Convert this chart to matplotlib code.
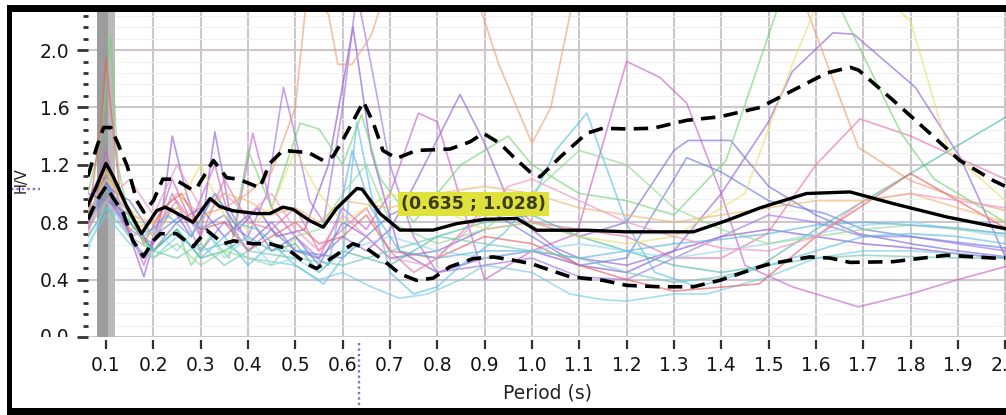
import matplotlib
matplotlib.use("Agg")
import matplotlib.pyplot as plt
from matplotlib.ticker import FixedLocator, MultipleLocator
from matplotlib.patches import Rectangle
from matplotlib.transforms import Bbox, TransformedBbox

# ---------------- data ----------------
x_ticks = [0.1, 0.2, 0.3, 0.4, 0.5, 0.6, 0.7, 0.8, 0.9, 1.0,
           1.1, 1.2, 1.3, 1.4, 1.5, 1.6, 1.7, 1.8, 1.9, 2.0]
x_tick_labels = ["0.1", "0.2", "0.3", "0.4", "0.5", "0.6", "0.7", "0.8", "0.9", "1.0",
                 "1.1", "1.2", "1.3", "1.4", "1.5", "1.6", "1.7", "1.8", "1.9", "2.0"]
y_ticks = [0.0, 0.4, 0.8, 1.2, 1.6, 2.0]
y_tick_labels = ["0.0", "0.4", "0.8", "1.2", "1.6", "2.0"]

mean_period = [0.062, 0.08, 0.10, 0.115, 0.144, 0.175, 0.207, 0.225, 0.24, 0.284, 0.32, 0.34,
               0.368, 0.418, 0.446, 0.474, 0.495, 0.531, 0.559, 0.587, 0.63, 0.641, 0.679,
               0.721, 0.791, 0.841, 0.90, 0.968, 1.01, 1.116, 1.2, 1.341, 1.41, 1.482, 1.58,
               1.672, 1.763, 1.876, 2.0]
mean_hv = [0.92, 1.05, 1.21, 1.12, 0.91, 0.72, 0.88, 0.905, 0.88, 0.80, 0.965, 0.91,
           0.88, 0.86, 0.86, 0.905, 0.89, 0.81, 0.765, 0.895, 1.035, 1.03, 0.86,
           0.745, 0.745, 0.79, 0.82, 0.826, 0.744, 0.744, 0.733, 0.733, 0.81, 0.90, 1.0,
           1.011, 0.93, 0.837, 0.755]

upper_period = [0.062, 0.08, 0.095, 0.11, 0.125, 0.145, 0.165, 0.18, 0.20, 0.22, 0.245, 0.28,
                0.29, 0.327, 0.355, 0.38, 0.425, 0.446, 0.474, 0.51, 0.525, 0.559, 0.58, 0.60,
                0.644, 0.665, 0.685, 0.714, 0.756, 0.827, 0.869, 0.897, 0.932, 0.961, 0.996,
                1.017, 1.06, 1.116, 1.15, 1.20, 1.256, 1.327, 1.397, 1.482, 1.552, 1.623,
                1.672, 1.69, 1.763, 1.834, 1.904, 1.975, 2.0]
upper_hv = [1.12, 1.32, 1.46, 1.46, 1.35, 1.19, 0.95, 0.87, 0.95, 1.10, 1.10, 1.03,
            1.03, 1.23, 1.11, 1.10, 1.04, 1.21, 1.30, 1.29, 1.29, 1.23, 1.26, 1.37,
            1.64, 1.49, 1.30, 1.245, 1.30, 1.31, 1.36, 1.42, 1.35, 1.255, 1.15,
            1.116, 1.255, 1.42, 1.455, 1.45, 1.455, 1.51, 1.535, 1.60, 1.72, 1.84,
            1.88, 1.86, 1.65, 1.44, 1.23, 1.09, 1.05]

lower_period = [0.062, 0.08, 0.10, 0.115, 0.137, 0.157, 0.179, 0.20, 0.215, 0.249, 0.284, 0.313,
                0.348, 0.37, 0.41, 0.446, 0.482, 0.524, 0.545, 0.58, 0.622, 0.651, 0.686,
                0.721, 0.756, 0.791, 0.827, 0.876, 0.918, 0.961, 1.0, 1.017, 1.08, 1.15,
                1.20, 1.27, 1.341, 1.397, 1.482, 1.503, 1.587, 1.63, 1.672, 1.763, 1.876,
                1.975, 2.0]
lower_hv = [0.82, 0.95, 1.05, 0.97, 0.86, 0.67, 0.56, 0.67, 0.72, 0.72, 0.63, 0.744,
            0.65, 0.67, 0.65, 0.65, 0.616, 0.51, 0.477, 0.558, 0.65, 0.616, 0.535,
            0.44, 0.395, 0.41, 0.49, 0.546, 0.558, 0.535, 0.51, 0.49, 0.42, 0.395,
            0.36, 0.35, 0.35, 0.395, 0.49, 0.51, 0.558, 0.55, 0.52, 0.525, 0.57,
            0.55, 0.55]

# individual H/V curves (thin coloured lines)
t01_p = [0.062, 0.09, 0.12, 0.18, 0.24, 0.28, 0.33, 0.38, 0.42, 0.46, 0.52, 0.57, 0.622, 0.66,
         0.72, 0.8, 0.9, 1.0, 1.1, 1.2, 1.3, 1.4, 1.5, 1.6, 1.7, 1.8, 1.9, 2.0]
t01_v = [0.95, 1.15, 0.9, 0.55, 0.9, 0.7, 1.0, 0.75, 0.9, 0.7, 0.75, 1.2, 2.16, 1.3,
         0.6, 0.45, 0.55, 0.6, 0.5, 0.45, 0.6, 0.7, 0.75, 0.7, 0.65, 0.62, 0.58, 0.55]

t02_p = [0.062, 0.1, 0.15, 0.2, 0.24, 0.3, 0.35, 0.4, 0.44, 0.475, 0.5, 0.53, 0.56, 0.6, 0.63,
         0.66, 0.7, 0.75, 0.8, 0.9, 1.0, 1.1, 1.2, 1.3, 1.4, 1.5, 1.6, 1.7, 1.8, 1.9, 2.0]
t02_v = [0.8, 1.0, 0.75, 0.65, 1.0, 0.6, 0.8, 0.7, 1.0, 1.74, 1.4, 0.95, 0.8, 1.6, 2.4,
         1.9, 1.2, 0.7, 0.45, 0.5, 0.55, 0.42, 0.4, 0.55, 0.7, 0.85, 0.8, 0.7, 0.7, 0.65, 0.6]

t03_p = [0.062, 0.1, 0.14, 0.18, 0.22, 0.24, 0.27, 0.3, 0.33, 0.36, 0.4, 0.45, 0.5, 0.55, 0.6,
         0.65, 0.7, 0.75, 0.848, 0.9, 0.95, 1.0, 1.05, 1.1, 1.2, 1.3, 1.4, 1.5, 1.55, 1.636,
         1.68, 1.81, 1.905, 2.0]
t03_v = [0.85, 1.1, 0.8, 0.42, 0.9, 1.4, 1.0, 0.7, 1.43, 0.9, 0.65, 0.8, 0.6, 0.55, 0.7,
         0.6, 0.75, 1.05, 1.69, 1.35, 0.95, 0.75, 0.62, 0.55, 0.5, 0.6, 1.0, 1.5, 1.85, 2.12,
         2.11, 1.74, 1.25, 0.56]

t04_p = [0.062, 0.1, 0.13, 0.18, 0.24, 0.28, 0.33, 0.37, 0.41, 0.45, 0.5, 0.55, 0.6, 0.65, 0.7,
         0.76, 0.8, 0.9, 0.95, 1.0, 1.095, 1.2, 1.27, 1.327, 1.4, 1.45, 1.55, 1.69, 1.8, 1.9, 2.0]
t04_v = [0.75, 1.3, 0.9, 0.5, 1.1, 0.8, 1.2, 0.7, 1.42, 0.9, 0.7, 0.55, 0.9, 0.75, 1.0,
         1.56, 1.5, 0.4, 0.5, 0.6, 0.72, 1.92, 1.81, 1.63, 1.0, 0.5, 0.35, 0.21, 0.3, 0.4, 0.49]

t05_p = [0.062, 0.1, 0.15, 0.2, 0.25, 0.3, 0.35, 0.4, 0.45, 0.5, 0.525, 0.57, 0.59, 0.62, 0.66,
         0.7, 0.8, 0.88, 0.93, 1.0, 1.04, 1.09, 1.3, 1.5, 1.59, 1.69, 1.8, 1.9, 2.0]
t05_v = [0.7, 1.2, 0.75, 0.8, 1.0, 0.85, 0.9, 1.0, 1.15, 1.6, 2.4, 2.25, 1.9, 1.9, 2.1,
         2.5, 3.0, 2.4, 1.9, 1.35, 1.6, 2.4, 3.0, 3.0, 2.2, 1.32, 1.09, 0.97, 0.88]

t06_p = [0.062, 0.1, 0.15, 0.2, 0.25, 0.3, 0.35, 0.4, 0.45, 0.5, 0.55, 0.6, 0.65, 0.7, 0.75,
         0.8, 0.9, 0.95, 1.0, 1.1, 1.2, 1.3, 1.4, 1.497, 1.6, 1.693, 1.8, 1.9, 2.0]
t06_v = [0.9, 1.0, 0.7, 0.75, 0.95, 0.7, 1.1, 0.8, 0.75, 0.9, 0.6, 0.75, 0.9, 0.6, 0.45,
         0.55, 0.9, 0.95, 0.8, 0.75, 0.7, 0.55, 0.55, 0.72, 1.2, 1.52, 1.4, 1.25, 1.1]

t07_p = [0.062, 0.1, 0.15, 0.2, 0.25, 0.3, 0.35, 0.4, 0.45, 0.5, 0.55, 0.6, 0.65, 0.7, 0.8,
         0.9, 1.0, 1.1, 1.2, 1.3, 1.33, 1.42, 1.5, 1.6, 1.69, 1.8, 1.9, 2.0]
t07_v = [1.0, 0.95, 0.85, 0.6, 0.8, 0.9, 0.7, 0.85, 0.6, 0.7, 0.5, 0.8, 0.7, 0.55, 0.6,
         0.75, 0.8, 0.7, 0.8, 1.3, 1.37, 1.37, 1.05, 0.85, 0.72, 0.65, 0.6, 0.56]

t08_p = [0.062, 0.1, 0.15, 0.2, 0.26, 0.3, 0.35, 0.4, 0.45, 0.5, 0.6, 0.7, 0.8, 0.9, 1.0,
         1.1, 1.2, 1.327, 1.4, 1.5, 1.62, 1.7, 1.8, 1.9, 2.0]
t08_v = [0.8, 1.05, 0.95, 0.7, 0.85, 0.75, 0.85, 0.6, 0.75, 0.6, 0.55, 0.85, 1.0, 0.9, 0.7,
         0.5, 0.55, 1.25, 1.15, 0.95, 0.86, 0.75, 0.7, 0.66, 0.62]

t09_p = [0.062, 0.1, 0.15, 0.2, 0.25, 0.3, 0.35, 0.4, 0.45, 0.5, 0.56, 0.6, 0.63, 0.66, 0.7,
         0.75, 0.8, 0.85, 0.94, 1.0, 1.05, 1.116, 1.2, 1.26, 1.35, 1.45, 1.6, 1.7, 1.8, 1.9, 2.0]
t09_v = [0.7, 0.9, 0.8, 0.6, 0.75, 0.55, 0.7, 0.5, 0.65, 0.5, 0.37, 0.55, 1.5, 1.0, 0.45,
         0.3, 0.35, 0.5, 0.72, 0.95, 1.3, 1.56, 0.79, 0.45, 0.35, 0.45, 0.6, 0.7, 0.72, 0.7, 0.65]

t10_p = [0.062, 0.1, 0.15, 0.2, 0.25, 0.3, 0.35, 0.4, 0.5, 0.55, 0.6, 0.66, 0.72, 0.78, 0.85,
         0.9, 1.0, 1.08, 1.15, 1.2, 1.3, 1.37, 1.5, 1.6, 1.7, 1.8, 1.9, 2.0]
t10_v = [0.65, 0.85, 0.65, 0.55, 0.7, 0.6, 0.65, 0.55, 0.5, 0.4, 0.45, 0.35, 0.27, 0.3, 0.4,
         0.5, 0.45, 0.3, 0.26, 0.25, 0.3, 0.3, 0.42, 0.55, 0.6, 0.6, 0.58, 0.55]

t11_p = [0.062, 0.09, 0.11, 0.125, 0.15, 0.2, 0.25, 0.28, 0.32, 0.36, 0.4, 0.45, 0.51, 0.55,
         0.6, 0.64, 0.68, 0.75, 0.85, 0.95, 1.0, 1.1, 1.2, 1.3, 1.41, 1.52, 1.6, 1.65, 1.78,
         1.85, 2.0]
t11_v = [1.0, 1.4, 2.1, 1.2, 0.8, 0.6, 0.75, 0.5, 0.7, 0.55, 1.3, 0.9, 1.49, 1.45,
         1.2, 1.55, 1.1, 0.8, 1.2, 1.4, 1.2, 1.0, 0.95, 0.85, 1.23, 2.3, 2.6, 2.3, 1.42,
         1.1, 0.8]

t12_p = [0.062, 0.1, 0.15, 0.2, 0.25, 0.3, 0.35, 0.4, 0.45, 0.5, 0.55, 0.6, 0.7, 0.8, 0.9,
         1.0, 1.1, 1.2, 1.3, 1.4, 1.48, 1.6, 1.8, 2.0]
t12_v = [0.75, 1.0, 0.8, 0.6, 0.75, 0.55, 0.6, 0.7, 0.6, 0.65, 0.45, 0.6, 0.5, 0.7, 0.8,
         0.85, 0.7, 0.6, 0.5, 0.45, 0.49, 0.75, 1.14, 1.53]

t13_p = [0.062, 0.09, 0.10, 0.11, 0.13, 0.18, 0.22, 0.26, 0.3, 0.35, 0.4, 0.45, 0.5, 0.55,
         0.6, 0.65, 0.7, 0.8, 0.9, 1.0, 1.1, 1.2, 1.3, 1.48, 1.6, 1.8, 1.9, 2.0]
t13_v = [0.8, 1.5, 1.95, 1.6, 1.0, 0.65, 0.9, 1.0, 0.75, 0.8, 0.6, 0.7, 0.8, 0.65,
         0.7, 0.85, 0.6, 0.55, 0.7, 0.65, 0.5, 0.4, 0.32, 0.37, 0.7, 1.14, 0.95, 0.76]

t14_p = [0.062, 0.1, 0.15, 0.2, 0.25, 0.3, 0.35, 0.4, 0.45, 0.5, 0.55, 0.6, 0.7, 0.8, 0.9,
         1.0, 1.1, 1.2, 1.3, 1.45, 1.55, 1.6, 1.7, 1.8, 1.88, 2.0]
t14_v = [0.85, 1.1, 0.9, 0.7, 0.9, 1.2, 0.85, 0.75, 0.9, 1.3, 1.0, 0.8, 1.0, 0.9, 0.75,
         0.8, 0.7, 0.65, 0.7, 1.0, 1.9, 2.3, 2.5, 2.2, 1.3, 0.95]

t15_p = [0.062, 0.1, 0.15, 0.2, 0.25, 0.3, 0.35, 0.4, 0.45, 0.5, 0.55, 0.6, 0.7, 0.8, 0.9,
         1.0, 1.1, 1.2, 1.3, 1.4, 1.5, 1.6, 1.7, 1.8, 1.9, 2.0]
t15_v = [0.6, 0.95, 0.7, 0.75, 0.6, 0.8, 0.55, 0.7, 0.5, 0.55, 0.45, 0.6, 0.7, 0.6, 0.55,
         0.6, 0.65, 0.6, 0.55, 0.6, 0.65, 0.72, 0.78, 0.8, 0.75, 0.7]

t16_p = [0.062, 0.1, 0.15, 0.2, 0.25, 0.3, 0.35, 0.4, 0.45, 0.5, 0.55, 0.6, 0.65, 0.7, 0.8,
         0.9, 1.0, 1.1, 1.2, 1.3, 1.4, 1.5, 1.6, 1.7, 1.8, 1.9, 2.0]
t16_v = [0.9, 1.2, 0.85, 0.55, 0.65, 0.5, 0.6, 0.55, 0.5, 0.7, 0.75, 1.0, 1.2, 0.8, 0.65,
         0.75, 1.0, 1.3, 1.2, 0.9, 0.75, 0.65, 0.7, 0.75, 0.78, 0.75, 0.72]

t17_p = [0.062, 0.1, 0.14, 0.18, 0.23, 0.28, 0.33, 0.37, 0.42, 0.47, 0.52, 0.57, 0.62, 0.66,
         0.72, 0.8, 0.9, 1.0, 1.1, 1.2, 1.3, 1.4, 1.5, 1.6, 1.7, 1.8, 1.9, 2.0]
t17_v = [0.85, 1.05, 0.9, 0.7, 0.85, 0.7, 1.0, 0.8, 0.75, 0.6, 0.6, 0.5, 1.3, 0.9,
         0.6, 0.55, 0.6, 0.6, 0.55, 0.6, 0.65, 0.68, 0.72, 0.78, 0.8, 0.78, 0.76, 0.72]

t18_p = [0.062, 0.1, 0.15, 0.2, 0.25, 0.3, 0.35, 0.4, 0.45, 0.5, 0.55, 0.6, 0.65, 0.7, 0.78,
         0.85, 0.95, 1.0, 1.1, 1.2, 1.3, 1.4, 1.5, 1.6, 1.7, 1.8, 1.9, 2.0]
t18_v = [0.75, 0.95, 1.1, 0.85, 1.2, 0.9, 1.0, 0.85, 1.0, 0.75, 0.6, 0.85, 0.7, 0.55, 0.5,
         0.7, 1.05, 1.1, 0.95, 0.8, 0.7, 0.62, 0.6, 0.7, 0.95, 1.0, 0.95, 0.9]

t19_p = [0.062, 0.1, 0.15, 0.2, 0.25, 0.3, 0.35, 0.4, 0.45, 0.5, 0.55, 0.6, 0.7, 0.8, 0.9,
         1.0, 1.1, 1.2, 1.3, 1.4, 1.5, 1.6, 1.7, 1.8, 1.9, 2.0]
t19_v = [0.95, 1.15, 0.85, 0.8, 0.9, 0.8, 1.0, 0.95, 0.85, 0.9, 0.8, 0.95, 0.9, 1.0, 1.05,
         1.0, 0.9, 0.85, 0.8, 0.85, 0.9, 0.95, 0.95, 1.0, 0.9, 0.8]

t20_p = [0.062, 0.1, 0.15, 0.2, 0.25, 0.3, 0.35, 0.4, 0.5, 0.6, 0.7, 0.8, 0.9, 1.0, 1.1,
         1.2, 1.3, 1.4, 1.5, 1.6, 1.7, 1.8, 1.9, 2.0]
t20_v = [0.7, 0.9, 0.7, 0.6, 0.55, 0.65, 0.5, 0.6, 0.55, 0.5, 0.6, 0.7, 0.65, 0.6, 0.55,
         0.45, 0.38, 0.42, 0.5, 0.55, 0.57, 0.56, 0.55, 0.55]

cursor_period = 0.635
cursor_hv = 1.028
cursor_text = "(0.635 ; 1.028)"

# ---------------- styles ----------------
thin_traces = [
    (t01_p, t01_v, "#8a58d4"), (t02_p, t02_v, "#a274e2"), (t03_p, t03_v, "#9064d8"),
    (t04_p, t04_v, "#c864c8"), (t05_p, t05_v, "#f0a070"), (t06_p, t06_v, "#e676a8"),
    (t07_p, t07_v, "#7c6cd4"), (t08_p, t08_v, "#6a80e0"), (t09_p, t09_v, "#58c0e8"),
    (t10_p, t10_v, "#74cbe4"), (t11_p, t11_v, "#78d47a"), (t12_p, t12_v, "#50baa2"),
    (t13_p, t13_v, "#e46262"), (t14_p, t14_v, "#e8e070"), (t15_p, t15_v, "#92d8f0"),
    (t16_p, t16_v, "#94da92"), (t17_p, t17_v, "#62b2e2"), (t18_p, t18_v, "#f094c4"),
    (t19_p, t19_v, "#f2b674"), (t20_p, t20_v, "#72c9b8"),
]

W, H = 1006, 415
fig = plt.figure(figsize=(W / 100, H / 100), dpi=100)
fig.patch.set_facecolor("white")

ax_left, ax_bottom, ax_right, ax_top = 88, 78, 1006, 403
ax = fig.add_axes([ax_left / W, ax_bottom / H, (ax_right - ax_left) / W, (ax_top - ax_bottom) / H])
ax.set_facecolor("white")
ax.set_xlim(0.062, 2.0016)
ax.set_ylim(0.0, 2.265)

# grid
ax.xaxis.set_major_locator(FixedLocator(x_ticks))
ax.yaxis.set_major_locator(FixedLocator(y_ticks))
ax.yaxis.set_minor_locator(MultipleLocator(0.08))
ax.set_axisbelow(True)
ax.grid(which="major", color="#cdc6cd", lw=1.5, zorder=0)
ax.grid(which="minor", axis="y", color="#f1f1f1", lw=0.8, zorder=0)

# grey band at the left
ax.axvspan(0.080, 0.105, color="#9c9c9c", lw=0, zorder=0.8)
ax.axvspan(0.105, 0.120, color="#bababa", lw=0, zorder=0.8)

# thin individual curves
for p, v, c in thin_traces:
    ax.plot(p, v, color=c, lw=1.2, alpha=0.65, zorder=2)

# mean and mean +/- std
ax.plot(upper_period, upper_hv, color="black", lw=2.6, ls=(0, (4.0, 2.3)), zorder=5)
ax.plot(lower_period, lower_hv, color="black", lw=2.6, ls=(0, (4.0, 2.3)), zorder=5)
ax.plot(mean_period, mean_hv, color="black", lw=2.4, zorder=6)

# cursor label
ax.text(0.723, 0.925, cursor_text, ha="left", va="center", fontsize=12.5,
        fontweight="bold", color="#3c3c1c", zorder=20,
        bbox=dict(boxstyle="square,pad=0.18", fc="#e0e23c", ec="none"))

# cursor cross lines outside the plot
ax.plot([cursor_period, cursor_period], [-0.018, -0.218], transform=ax.get_xaxis_transform(),
        clip_on=False, ls=(0, (1, 1.3)), color="#8a6cc8", lw=1.7, zorder=10)
ax.plot([-0.084, -0.052], [cursor_hv, cursor_hv], transform=ax.get_yaxis_transform(),
        clip_on=False, ls=(0, (1, 1.3)), color="#8a6cc8", lw=1.7, zorder=10)

# ticks
for s in ax.spines.values():
    s.set_visible(False)
ax.spines["bottom"].set_position(("outward", 2.2))
ax.set_xticklabels(x_tick_labels)
ax.set_yticklabels([""] + y_tick_labels[1:])
ax.tick_params(axis="x", which="major", direction="out", length=6.5, width=1.6,
               color="#333333", pad=5, labelsize=13.5, labelcolor="#151515")
ax.tick_params(axis="y", which="major", direction="out", length=8, width=2.0,
               color="#333333", pad=5.5, labelsize=13.5, labelcolor="#151515")
ax.tick_params(axis="y", which="minor", direction="out", length=3.8, width=2.0,
               color="#333333")

# bottom y label "0.0" clipped at the axis bottom like the original
zero_lbl = fig.text(-0.0202, y_ticks[0], y_tick_labels[0], transform=ax.get_yaxis_transform(),
                    ha="right", va="center", fontsize=13.5, color="#151515")
zero_lbl.set_clip_box(TransformedBbox(Bbox([[-0.2, 0.0], [0.0, 1.2]]), ax.transAxes))
zero_lbl.set_clip_on(True)

ax.set_xlabel("Period (s)", fontsize=13.5, color="#222222")
ax.xaxis.set_label_coords(0.501, -0.142)
ax.set_ylabel("H/V", fontsize=10.5, color="#222222")
ax.yaxis.set_label_coords(-0.065, 0.483)

# black screenshot frame
frame_kw = dict(transform=fig.transFigure, color="black", lw=0, zorder=50)
fig.add_artist(Rectangle((7 / W, (H - 12) / H), 1, 7 / H, **frame_kw))
fig.add_artist(Rectangle((7 / W, 0), 5 / W, (H - 5) / H, **frame_kw))
fig.add_artist(Rectangle((7 / W, 0), 1, 7 / H, **frame_kw))

fig.savefig("out.png", dpi=100, facecolor="white")
